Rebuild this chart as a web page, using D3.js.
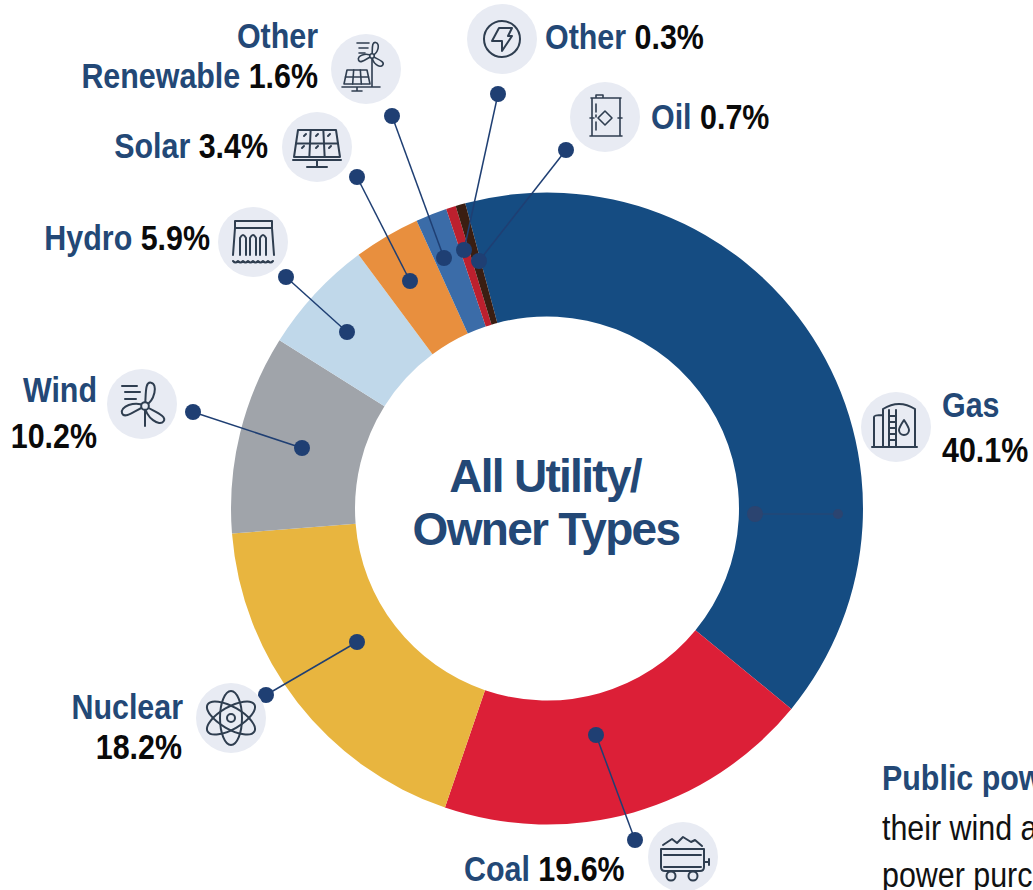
<!DOCTYPE html>
<html>
<head>
<meta charset="utf-8">
<script src="https://cdn.jsdelivr.net/npm/d3@7"></script>
<style>
  html, body { margin: 0; padding: 0; background: #fff; overflow: hidden; }
  text { font-family: "Liberation Sans", sans-serif; font-size: 36px; font-weight: 700; }
  .name { fill: #234876; }
  .pct { fill: #0a0a0a; }
  .plain { font-weight: 400; fill: #111; }
  .center { font-size: 46px; fill: #234876; letter-spacing: -1.7px; text-anchor: middle; }
  .ico { fill: none; stroke: #2f3e50; stroke-width: 2; stroke-linecap: round; stroke-linejoin: round; }
</style>
</head>
<body>
<div id="chart"></div>
<script>
var categories = ["Gas", "Coal", "Nuclear", "Wind", "Hydro", "Solar", "Other Renewable", "Other", "Oil"];
var ringShares = [40.1, 19.3, 18.5, 10.2, 5.9, 3.4, 1.6, 0.5, 0.5];
var printedLabels = ["40.1%", "19.6%", "18.2%", "10.2%", "5.9%", "3.4%", "1.6%", "0.3%", "0.7%"];
var sliceColors = ["#154c82", "#dc1f37", "#e8b53f", "#a0a4aa", "#c0d8ea", "#e88f3e", "#3b6ca8", "#bc202e", "#3a1e12"];

var width = 1033;
var height = 890;
var center = {x: 547, y: 508.5};
var outerR = 316;
var innerR = 192;
var narrow = 0.845; // no narrow font installed, so squeeze the labels

var svg = d3.select("#chart")
  .append("svg")
  .attr("width", width)
  .attr("height", height)
  .style("display", "block");

var pie = d3.pie()
  .sort(null)
  .startAngle(-15 * Math.PI / 180)
  .endAngle(345 * Math.PI / 180);

var arc = d3.arc().innerRadius(innerR).outerRadius(outerR);

svg.append("g")
  .attr("transform", `translate(${center.x},${center.y})`)
  .selectAll("path")
  .data(pie(ringShares))
  .enter()
  .append("path")
    .attr("d", arc)
    .attr("fill", function(d, i) { return sliceColors[i]; });

svg.append("text").attr("class", "center").attr("x", 545).attr("y", 492).text("All Utility/");
svg.append("text").attr("class", "center").attr("x", 546).attr("y", 545).text("Owner Types");

// leader lines: a = dot outside or inside the ring, b = other end
var leaders = [
  {k: "Other Renewable", a: [392, 116], b: [444, 258]},
  {k: "Other", a: [498, 94], b: [464, 250]},
  {k: "Oil", a: [566, 150], b: [479, 261]},
  {k: "Solar", a: [357, 177], b: [410, 281]},
  {k: "Hydro", a: [286, 277], b: [347, 332]},
  {k: "Wind", a: [193, 412], b: [302, 448]},
  {k: "Nuclear", a: [266, 695], b: [357, 642]},
  {k: "Coal", a: [635, 840], b: [596, 735]}
];

leaders.forEach(function(l) {
  svg.append("line")
    .attr("x1", l.a[0]).attr("y1", l.a[1]).attr("x2", l.b[0]).attr("y2", l.b[1])
    .attr("stroke", "#1f3f73").attr("stroke-width", 1.5);
  svg.append("circle").attr("cx", l.a[0]).attr("cy", l.a[1]).attr("r", 8).attr("fill", "#1f3f73");
  svg.append("circle").attr("cx", l.b[0]).attr("cy", l.b[1]).attr("r", 8).attr("fill", "#1f3f73");
});

// gas leader sits inside the slice, barely visible
svg.append("line").attr("x1", 755).attr("y1", 514).attr("x2", 839).attr("y2", 514)
  .attr("stroke", "#2b4470").attr("stroke-width", 1.2);
svg.append("circle").attr("cx", 755).attr("cy", 514).attr("r", 8).attr("fill", "#2b4470");
svg.append("circle").attr("cx", 838).attr("cy", 514).attr("r", 5).attr("fill", "#2b4470");

// icons
function badge(x, y) {
  svg.append("circle").attr("cx", x).attr("cy", y).attr("r", 35).attr("fill", "#e8ebf3");
  return svg.append("g").attr("class", "ico").attr("transform", `translate(${x},${y})`);
}

function turbine(g, x, y, len, w) {
  var petal = `M0,0C${w},${-len * 0.3} ${w},${-len} ${w * 0.2},${-len}C${-w * 0.5},${-len} ${-w * 0.1},${-len * 0.5} 0,0Z`;
  [10, 125, 248].forEach(function(a) {
    g.append("path").attr("d", petal).attr("transform", `translate(${x},${y}) rotate(${a})`);
  });
  g.append("circle").attr("cx", x).attr("cy", y).attr("r", len * 0.16).attr("fill", "#e8ebf3");
}

function panelGrid(g, x0, x1, x2, x3, y0, y1) {
  // x0,x1 top edge, x2,x3 bottom edge
  g.append("path").attr("d", `M${x0},${y0}H${x1}L${x3},${y1}H${x2}Z`);
  var ym = (y0 + y1) / 2;
  g.append("path").attr("d", `M${(x0 + x2) / 2},${ym}H${(x1 + x3) / 2}`);
  [1 / 3, 2 / 3].forEach(function(t) {
    g.append("path").attr("d", `M${x0 + (x1 - x0) * t},${y0}L${x2 + (x3 - x2) * t},${y1}`);
  });
}

var g;

// other renewable
g = badge(366, 69);
g.style("stroke-width", 1.6);
panelGrid(g, -19, 1, -22, 4, 1, 15);
g.append("path").attr("d", "M-24,18H14M-9,18V22M-14,22H-4M6,-10V18M-9,-26H3M-7,-21H2M-7,-16H-1");
turbine(g, 6, -13, 14, 6);

// other (bolt in a circle)
g = badge(502, 39);
g.append("circle").attr("r", 18);
g.append("path").attr("d", "M-3,-11H10L6,-3H10L0,12V2H-10Z");

// oil
g = badge(605, 117);
g.style("stroke-width", 1.6);
g.append("path").attr("d", "M-14,-19H16M-13,-19V19M15,-19V19M-15,19H17M-9,-19V-22H-2V-19M-15,1H-11M13,1H17");
g.append("path").attr("d", "M-9,-13V-5M-9,-2V0M-9,5V13");
g.append("path").attr("d", "M0,-6L7,1L0,8L-7,1Z");

// solar
g = badge(317, 147);
panelGrid(g, -19, 19, -23, 23, -17, 10);
g.append("path").attr("d", "M-24,13H24M0,13V20M-10,20H10");
g.append("path").attr("d", "M-13,-11l2,-2M-1,-11l2,-2M11,-11l2,-2M-15,1l2,-2M-1,1l2,-2M12,1l2,-2");

// hydro
g = badge(253, 242);
g.append("path").attr("d", "M-18,-14V-21H19V-14M-18,-14H19M-18,-14L-20,13M19,-14L21,13");
[-13, -3, 7].forEach(function(x) {
  g.append("path").attr("d", `M${x},13V-4Q${x + 3},-10 ${x + 6},-4V13`);
});
g.append("path").attr("d", "M-20,19q2.5,3 5,0q2.5,3 5,0q2.5,3 5,0q2.5,3 5,0q2.5,3 5,0q2.5,3 5,0q2.5,3 5,0q2.5,3 5,0");

// wind
g = badge(142, 404);
g.append("path").attr("d", "M3,6V22M-20,-18H-5M-17,-12H-2M-17,-5H-6");
turbine(g, 3, 2, 24, 9);

// nuclear
g = badge(231, 718);
[90, 30, -30].forEach(function(a) {
  g.append("ellipse").attr("rx", 27).attr("ry", 11).attr("transform", `rotate(${a})`);
});
g.append("circle").attr("r", 4);

// gas
g = badge(896, 427);
g.append("path").attr("d", "M-13,19V-18Q3,-28 19,-18V19M-24,20H21M-22,19V-10Q-22,-12 -13,-12");
g.append("path").attr("d", "M-7,-17V19M0,-17V19M-7,-11H0M-7,-5H0M-7,1H0M-7,7H0M-7,13H0");
g.append("path").attr("d", "M8,-7C4,-1 3,1 3,3A5,5 0 0 0 13,3C13,1 12,-1 8,-7Z");

// coal
g = badge(683, 857);
g.append("path").attr("d", "M-22,-8H21V10Q21,14 17,14H-18Q-22,14 -22,10Z");
g.append("path").attr("d", "M-19,-2H18M-19,10H18M21,5H26M26,2V8M-20,-12L-11,-18L-6,-14L0,-20L8,-15L12,-17L19,-11");
g.append("circle").attr("cx", -12).attr("cy", 19).attr("r", 4.5).attr("fill", "#e8ebf3");
g.append("circle").attr("cx", 10).attr("cy", 19).attr("r", 4.5).attr("fill", "#e8ebf3");

// labels. pctIndex is the index in printedLabels
function label(anchor, x, y, name, pctIndex) {
  var t = svg.append("text")
    .attr("transform", `translate(${x},${y}) scale(${narrow},1)`)
    .attr("text-anchor", anchor);
  if (name) t.append("tspan").attr("class", "name").text(name);
  if (name && pctIndex != null) t.append("tspan").text(" ");
  if (pctIndex != null) t.append("tspan").attr("class", "pct").text(printedLabels[pctIndex]);
  return t;
}

label("end", 318, 48, "Other", null);
label("end", 318, 88, "Renewable", 6);
label("start", 545, 49, "Other", 7);
label("start", 651, 129, "Oil", 8);
label("end", 268, 158, "Solar", 5);
label("end", 210, 250, "Hydro", 4);
label("end", 97, 402, "Wind", null);
label("end", 97, 448, null, 3);
label("end", 183, 719, "Nuclear", null);
label("end", 182, 759, null, 2);
label("start", 942, 417, "Gas", null);
label("start", 942, 462, null, 0);
label("start", 464, 881, "Coal", 1);

// side note, cut off by the page edge in the reference
label("start", 882, 790, "Public pow", null);
label("start", 882, 840, "their wind a", null).select("tspan").attr("class", "plain");
label("start", 882, 887, "power purc", null).select("tspan").attr("class", "plain");
</script>
</body>
</html>
